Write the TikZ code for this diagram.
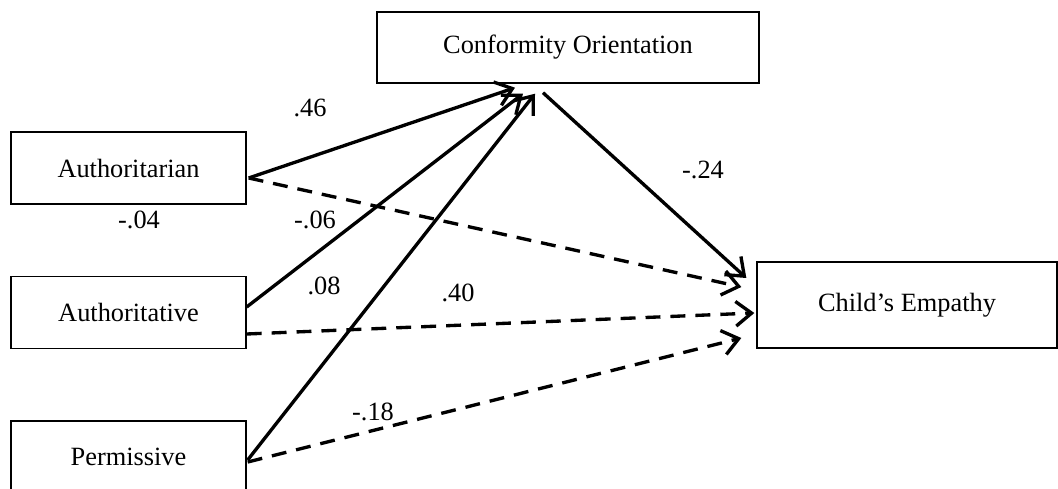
\documentclass[tikz,border=0pt]{standalone}
\usepackage{fontspec}
\setmainfont{Liberation Serif}
\usepackage{tikz}
\usetikzlibrary{arrows.meta,calc}

\begin{document}
\begin{tikzpicture}[x=0.02cm,y=-0.02cm,
        box/.style={draw,line width=0.8pt,inner sep=0pt,font=\fontsize{15}{18}\selectfont},
        sem/.style={line width=1.9pt,-{Straight Barb[length=9pt,width=14pt,line width=1.9pt]}},
        semdash/.style={sem,dash pattern=on 8.5pt off 5.7pt},
        coef/.style={inner sep=0pt,font=\fontsize{15}{18}\selectfont}]
        \useasboundingbox (0,0) rectangle (1058,489);
        \clip (0,0) rectangle (1058,489);
        % boxes
        \node[box,minimum width=7.64cm,minimum height=1.42cm] (conf) at (568,47.5) {Conformity Orientation};
        \node[box,minimum width=4.7cm,minimum height=1.44cm] (auth1) at (128.5,168) {Authoritarian};
        \node[box,minimum width=4.7cm,minimum height=1.44cm] (auth2) at (128.5,312.5) {Authoritative};
        \node[box,minimum width=4.7cm,minimum height=1.44cm] (perm) at (128.5,457) {Permissive};
        \node[box,minimum width=6.0cm,minimum height=1.72cm] (emp) at (907,305) {Child’s Empathy};
        % paths
        \draw[sem] ($(auth1.east)+(2,10)$) -- ($(conf.south)+(-53,4)$);
        \draw[sem] ($(auth2.east)+(0,-5.5)$) -- ($(conf.south)+(-45,10)$);
        \draw[sem] ($(perm.east)+(1,3)$) -- ($(conf.south)+(-33,10)$);
        \draw[sem] ($(conf.south)+(-25,9)$) -- ($(emp.west)+(-10,-27)$);
        \draw[semdash] ($(auth1.east)+(2,10)$) -- ($(emp.west)+(-15,-18)$);
        \draw[semdash] ($(auth2.east)+(0,21.5)$) -- ($(emp.west)+(-2,8)$);
        \draw[semdash] ($(perm.east)+(1,5)$) -- ($(emp.west)+(-15,33)$);
        % coefficients
        \node[coef] (c1) at (310,108) {.46};
        \node[coef] (c2) at (139,220) {-.04};
        \node[coef] (c3) at (315,220) {-.06};
        \node[coef] (c4) at (324,286) {.08};
        \node[coef] (c5) at (458,293) {.40};
        \node[coef] (c6) at (373,412) {-.18};
        \node[coef] (c7) at (703,170) {-.24};
\end{tikzpicture}
\end{document}
